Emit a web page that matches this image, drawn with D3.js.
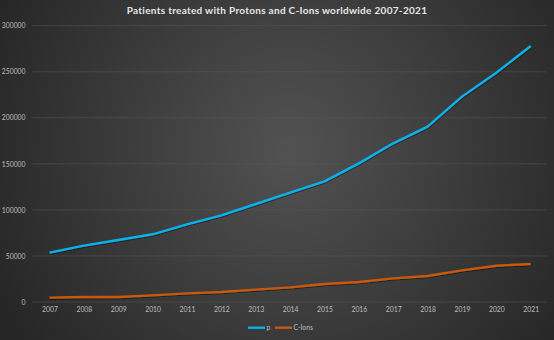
<!DOCTYPE html>
<html><head><meta charset="utf-8">
<script src="https://cdn.jsdelivr.net/npm/d3@7"></script>
<style>html,body{margin:0;padding:0;background:#2a2a2a;}svg{display:block;}</style>
</head><body>
<script>
const years = ["2007","2008","2009","2010","2011","2012","2013","2014","2015","2016","2017","2018","2019","2020","2021"];
const protons = [53600,61200,67300,73500,84300,94100,106400,118700,131000,150500,172300,190400,223000,249000,278000];
const cions = [4700,5400,5400,7200,9400,10900,13400,15900,19500,21700,25700,28200,34400,39400,41300];
const yTicks = [0,50000,100000,150000,200000,250000,300000];
const seriesNames = ["p","C-Ions"];
const title = "Patients treated with Protons and C-Ions worldwide 2007-2021";

const W = 554, H = 340;
const svg = d3.select("body").append("svg").attr("width", W).attr("height", H);
const defs = svg.append("defs");
const rg = defs.append("radialGradient").attr("id","bg").attr("gradientUnits","userSpaceOnUse")
  .attr("cx", 290).attr("cy", 150).attr("r", 330);
rg.append("stop").attr("offset","0%").attr("stop-color","#525252");
rg.append("stop").attr("offset","100%").attr("stop-color","#262626");
const f = defs.append("filter").attr("id","sh").attr("x","-5%").attr("y","-5%").attr("width","110%").attr("height","120%");
f.append("feDropShadow").attr("dx",0.6).attr("dy",0.8).attr("stdDeviation",0.6).attr("flood-color","#000").attr("flood-opacity",0.55);

svg.append("rect").attr("width",W).attr("height",H).attr("fill","url(#bg)");

const x = d3.scalePoint().domain(years).range([49.5, 530.7]);
const y = d3.scaleLinear().domain([0,300000]).range([302, 25.7]);

// grid
svg.append("g").selectAll("line").data(yTicks).join("line")
  .attr("x1", 32).attr("x2", 547).attr("y1", d=>y(d)).attr("y2", d=>y(d))
  .attr("stroke", "#5a5a5a").attr("stroke-opacity", 0.5).attr("stroke-width", 1);

// y labels
const yAxis = d3.axisLeft(y).tickValues(yTicks).tickSize(0).tickPadding(0).tickFormat(d3.format("d"));
const gy = svg.append("g").attr("transform","translate(25.5,0)").call(yAxis);
gy.select(".domain").remove();
gy.selectAll("text").attr("fill","#bdbdbd").style("font-family","Lato, 'Open Sans', sans-serif").style("font-size","6.8px");

// x labels
const xAxis = d3.axisBottom(x).tickSize(0).tickPadding(0);
const gx = svg.append("g").attr("transform","translate(0,307)").call(xAxis);
gx.select(".domain").remove();
gx.selectAll("text").attr("fill","#bdbdbd").style("font-family","Lato, 'Open Sans', sans-serif").style("font-size","6.8px");

const line = d3.line().x((d,i)=>x(years[i])).y(d=>y(d));
svg.append("path").datum(cions).attr("d", line).attr("fill","none")
  .attr("stroke","#c55a11").attr("stroke-width",2.4).attr("stroke-linejoin","round").attr("filter","url(#sh)");
svg.append("path").datum(protons).attr("d", line).attr("fill","none")
  .attr("stroke","#0ab0e8").attr("stroke-width",2.4).attr("stroke-linejoin","round").attr("filter","url(#sh)");

// title
svg.append("text").attr("x", 277).attr("y", 13.5).attr("text-anchor","middle")
  .attr("fill","#e6e6e6").style("font-family","Lato, 'Open Sans', sans-serif").style("font-weight","bold")
  .style("font-size","10px").style("letter-spacing","0.3px").text(title);

// legend
const lg = svg.append("g");
const colors = ["#0ab0e8","#c55a11"];
const lx = [248, 275];
seriesNames.forEach((n,i)=>{
  lg.append("line").attr("x1", lx[i]).attr("x2", lx[i]+17).attr("y1",327.7).attr("y2",327.7)
    .attr("stroke",colors[i]).attr("stroke-width",2.4);
  lg.append("text").attr("x", lx[i]+18.5).attr("y", 330).attr("fill","#bdbdbd")
    .style("font-family","Lato, 'Open Sans', sans-serif").style("font-size","6.8px").text(n);
});
</script>
</body></html>
